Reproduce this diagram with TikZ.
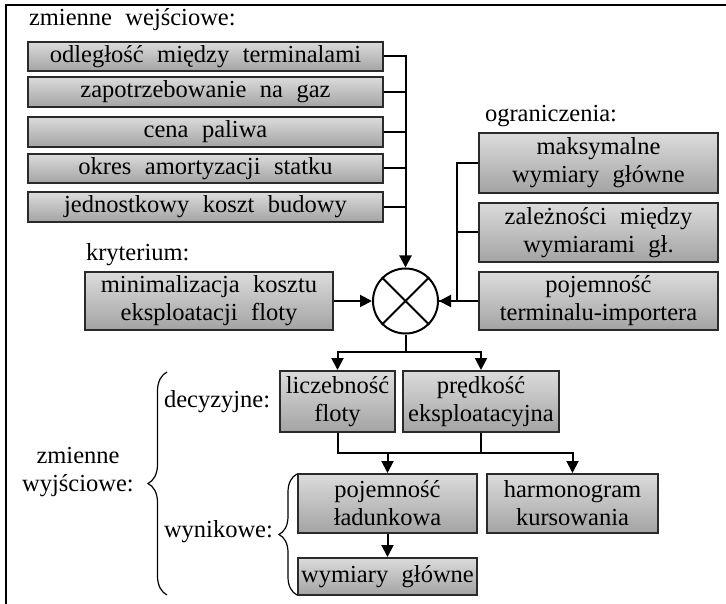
\documentclass[tikz,border=0pt]{standalone}
\usepackage{fontspec}
\setmainfont{Liberation Serif}[WordSpace=2.2]
\usepackage{tikz}
\usetikzlibrary{arrows.meta,decorations.pathreplacing,shapes.geometric}
\definecolor{BoxEdge}{HTML}{2A2A2A}

\begin{document}
\begin{tikzpicture}[x=1pt,y=-1pt,line width=2pt,
    font=\fontsize{24.5}{28}\selectfont,
    blok/.style={draw=BoxEdge,line width=2pt,top color=black!14,middle color=black!2,bottom color=black!36,
      inner sep=0pt,align=center},
    etykieta/.style={inner sep=0pt,align=center},
    >={Triangle[length=12pt,width=12pt]}]
	\useasboundingbox (0,0) rectangle (726,604);
	\draw (726,5) -- (6,5) -- (6,604);
	% wejscia
	\node[etykieta,anchor=west] (lwe) at (28,20) {zmienne wejściowe:};
	\node[blok,minimum width=355,minimum height=29] (in1) at (205.5,56.5) {odległość między terminalami};
	\node[blok,minimum width=355,minimum height=30] (in2) at (205.5,92) {zapotrzebowanie na gaz};
	\node[blok,minimum width=355,minimum height=30] (in3) at (205.5,132) {cena paliwa};
	\node[blok,minimum width=355,minimum height=29] (in4) at (205.5,168.5) {okres amortyzacji statku};
	\node[blok,minimum width=355,minimum height=30] (in5) at (205.5,207) {jednostkowy koszt budowy};
	% ograniczenia
	\node[etykieta] (logr) at (551,116) {ograniczenia:};
	\node[blok,minimum width=239,minimum height=60] (ogr1) at (598.5,163) {maksymalne\\wymiary główne};
	\node[blok,minimum width=239,minimum height=59] (ogr2) at (598.5,232.5) {zależności między\\wymiarami gł.};
	\node[blok,minimum width=239,minimum height=58] (ogr3) at (598.5,301) {pojemność\\terminalu-importera};
	% kryterium
	\node[etykieta,anchor=west] (lkr) at (85,255) {kryterium:};
	\node[blok,minimum width=248,minimum height=58] (kryt) at (209,301) {minimalizacja kosztu\\eksploatacji floty};
	\node[draw,circle,minimum size=65,inner sep=0pt] (sum) at (405.5,301) {};
	\draw (sum.north west) -- (sum.south east) (sum.north east) -- (sum.south west);
	% wyjscia
	\node[blok,minimum width=115,minimum height=61] (dec1) at (337.5,401.5) {liczebność\\floty};
	\node[blok,minimum width=156,minimum height=61] (dec2) at (481,401.5) {prędkość\\eksploatacyjna};
	\node[blok,minimum width=179,minimum height=59] (wyn1) at (387.5,503.5) {pojemność\\ładunkowa};
	\node[blok,minimum width=171,minimum height=59] (wyn2) at (572.5,503.5) {harmonogram\\kursowania};
	\node[blok,minimum width=179,minimum height=37] (wyn3) at (387.5,576.5) {wymiary główne};
	\node[etykieta,anchor=west] (ldec) at (163,402) {decyzyjne:};
	\node[etykieta,anchor=west] (lwyn) at (163,532) {wynikowe:};
	\node[etykieta] (lwy) at (78,472) {zmienne\\wyjściowe:};
	\draw[line width=1.2pt,decorate,decoration={brace,amplitude=19pt}] (167,595) -- (167,372);
	\draw[line width=1.2pt,decorate,decoration={brace,amplitude=18pt}] (297,595) -- (297,474);
	% polaczenia
	\draw[->] (in1.east) -| (sum.north);
	\foreach \n in {in2,in3,in4,in5}
		\draw (\n.east) -- (\n.east -| sum.north);
	\draw[->] (ogr1.west) -- ++(-21,0) |- (sum.east);
	\draw (ogr2.west) -- ++(-21,0);
	\draw (ogr3.west) -- (sum.east);
	\draw[->] (kryt.east) -- (sum.west);
	\draw (sum.south) -- ++(0,17) coordinate (rozg);
	\draw[->] (rozg) -| (dec1.north);
	\draw[->] (rozg) -| (dec2.north);
	\draw (dec1.south) -- ++(0,20) coordinate (zb) -| (dec2.south);
	\draw[->] (zb -| wyn1.north) -- (wyn1.north);
	\draw[->] (zb) -| (wyn2.north);
	\draw[->] (wyn1.south) -- (wyn3.north);
\end{tikzpicture}
\end{document}
